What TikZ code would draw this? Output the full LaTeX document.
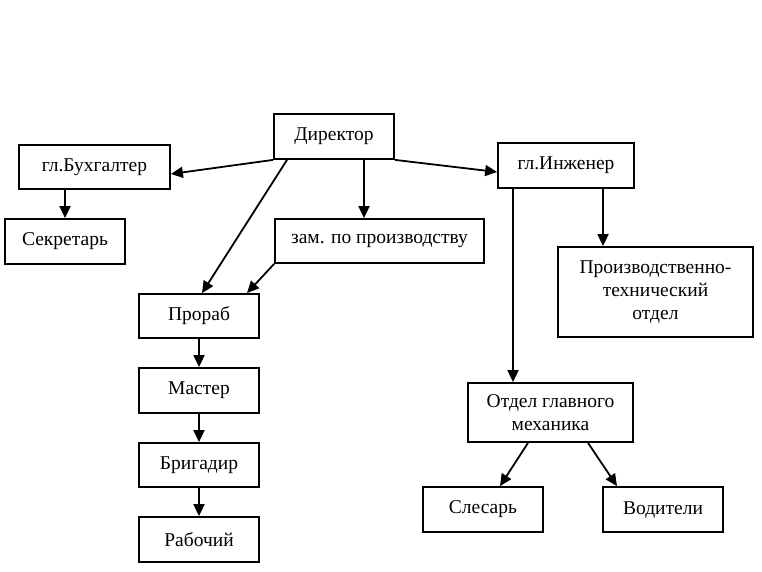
\documentclass[tikz,border=0pt]{standalone}
\usepackage{fontspec}
\setmainfont{Liberation Serif}
\usetikzlibrary{arrows.meta}
\begin{document}
\begin{tikzpicture}[x=1pt,y=-1pt,
  box/.style={draw,line width=1.8pt,inner sep=0pt,align=center,
    font=\fontsize{19.5}{23}\selectfont},
  conn/.style={line width=1.8pt,-{Triangle[length=12pt,width=11pt]}}]
\useasboundingbox (0,0) rectangle (762,572);
\node[box,minimum width=120pt,minimum height=45pt] (dir) at (334,136.5) {Директор};
\node[box,minimum width=151pt,minimum height=44pt] (buh) at (94.5,167) {гл.Бухгалтер};
\node[box,minimum width=120pt,minimum height=45pt] (sec) at (65,241.5) {Секретарь};
\node[box,minimum width=209pt,minimum height=44pt] (zam) at (379.5,241) {зам. по производству};
\node[box,minimum width=136pt,minimum height=45pt] (inj) at (566,165.5) {гл.Инженер};
\node[box,minimum width=195pt,minimum height=90pt] (pto) at (655.5,292) {Производственно-\\технический\\отдел};
\node[box,minimum width=120pt,minimum height=44pt] (pro) at (199,316) {Прораб};
\node[box,minimum width=120pt,minimum height=45pt] (mas) at (199,390.5) {Мастер};
\node[box,minimum width=120pt,minimum height=44pt] (bri) at (199,465) {Бригадир};
\node[box,minimum width=120pt,minimum height=45pt] (rab) at (199,539.5) {Рабочий};
\node[box,minimum width=165pt,minimum height=59pt] (otd) at (550.5,412.5) {Отдел главного\\механика};
\node[box,minimum width=120pt,minimum height=45pt] (sle) at (483,509.5) {Слесарь};
\node[box,minimum width=120pt,minimum height=45pt] (vod) at (663,509.5) {Водители};
% connectors
\draw[conn] (dir.south west) -- ([yshift=-7pt]buh.east);
\draw[conn] (dir.south east) -- ([yshift=-6.5pt]inj.west);
\draw[conn] ([xshift=30pt]dir.south) -- ([xshift=30pt]dir.south |- zam.north);
\draw[conn] ([xshift=-47pt]dir.south) -- ([xshift=3pt]pro.north);
\draw[conn] (zam.south west) -- ([xshift=48pt]pro.north);
\draw[conn] ([xshift=-29.5pt]buh.south) -- ([xshift=-29.5pt]buh.south |- sec.north);
\draw[conn] ([xshift=37pt]inj.south) -- ([xshift=37pt]inj.south |- pto.north);
\draw[conn] ([xshift=-53pt]inj.south) -- ([xshift=-53pt]inj.south |- otd.north);
\draw[conn] ([xshift=-22.5pt]otd.south) -- ([xshift=17pt]sle.north);
\draw[conn] ([xshift=37.5pt]otd.south) -- ([xshift=-46pt]vod.north);
\draw[conn] (pro) -- (mas);
\draw[conn] (mas) -- (bri);
\draw[conn] (bri) -- (rab);
\end{tikzpicture}
\end{document}
